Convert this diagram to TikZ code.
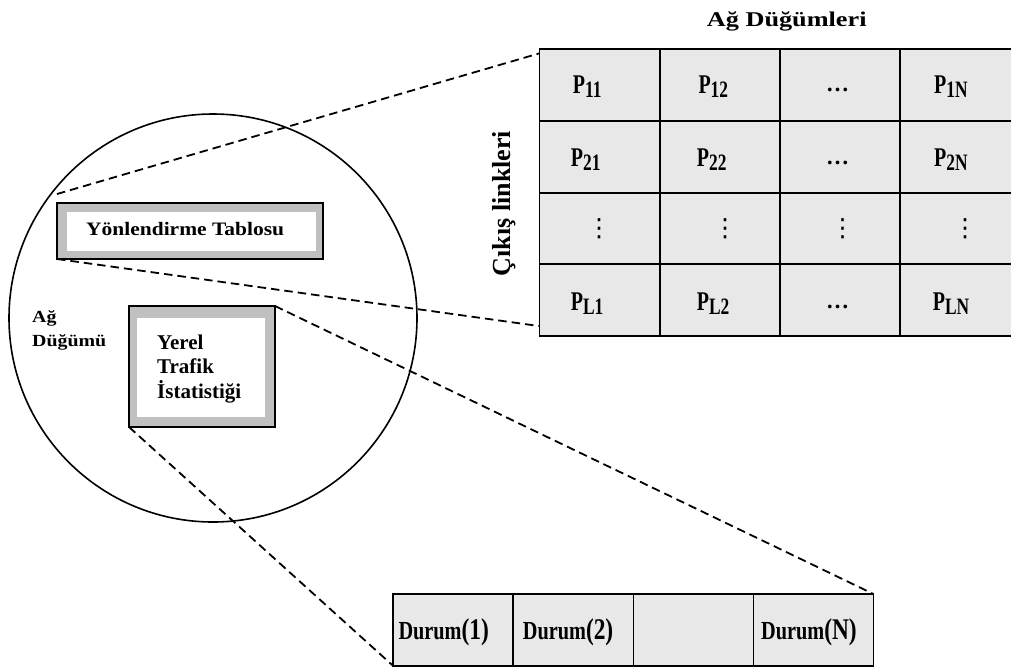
\documentclass[tikz,border=0pt]{standalone}
\usepackage{fontspec}
\usepackage{graphicx}
\usetikzlibrary{calc}
\setmainfont{Liberation Serif}
\newfontfamily\symfont{DejaVu Sans}
\definecolor{cellgray}{HTML}{E8E8E8}
\definecolor{framegray}{HTML}{C0C0C0}
% horizontal stretch of a text run
\newcommand\hstretch[2]{\scalebox{#1}[1]{#2}}
% P with a lowered, slightly smaller index
\newcommand\pcell[1]{\hstretch{0.74}{P\raisebox{-4pt}{\fontsize{23.5}{23.5}\selectfont #1}}}
\newcommand\dcell[1]{\hstretch{0.78}{Durum{\fontsize{30}{30}\selectfont(#1)}}}
\begin{document}
\begin{tikzpicture}[x=1pt,y=-1pt,
  cell/.style={draw=black, line width=1.9pt, fill=cellgray, inner sep=0pt, outer sep=0pt,
               minimum width=120.2pt, minimum height=71.7pt},
  slot/.style={draw=black, line width=1.9pt, fill=cellgray, inner sep=0pt, outer sep=0pt,
               minimum width=120pt, minimum height=72pt},
  frameout/.style={draw=black, line width=1.5pt, fill=framegray, inner sep=0pt, outer sep=0pt},
  framein/.style={fill=white, inner sep=0pt, outer sep=0pt},
  link/.style={dashed, dash pattern=on 8.5pt off 5pt, line width=1.8pt},
  ptext/.style={anchor=base west, inner sep=0pt, font=\bfseries\fontsize{27}{27}\selectfont},
  dtext/.style={anchor=base west, inner sep=0pt, font=\bfseries\fontsize{26}{26}\selectfont},
  dots/.style={anchor=base, inner sep=0pt, font=\bfseries\fontsize{23}{23}\selectfont},
  vdot/.style={inner sep=0pt, font=\symfont\fontsize{25}{25}\selectfont}]
\useasboundingbox (0,0) rectangle (1011,667);

% network node
\node[draw, circle, line width=1.6pt, minimum size=408pt, inner sep=0pt] (nd) at (213,318) {};

% routing table box
\node[frameout, minimum width=266pt, minimum height=56pt] (yo) at (190,231) {};
\node[framein, minimum width=249pt, minimum height=39pt] (yi) at (191.5,231.5) {};
\node[anchor=base west, inner sep=0pt, font=\bfseries\fontsize{19}{19}\selectfont]
  (ytxt) at (86,235) {\hstretch{1.13}{Yönlendirme Tablosu}};

% local traffic statistics box
\node[frameout, minimum width=146pt, minimum height=121pt] (ro) at (202,366.5) {};
\node[framein, minimum width=128pt, minimum height=99pt] (ri) at (201,367.5) {};
\node[anchor=base west, inner sep=0pt, align=left,
      font=\bfseries\fontsize{21}{24.5}\selectfont] (rtxt) at (157,398.3)
  {Yerel\\Trafik\\İstatistiği};

\node[anchor=base west, inner sep=0pt, align=left,
      font=\bfseries\fontsize{17}{24}\selectfont] (ndlbl) at (32,346.7)
  {\hstretch{1.17}{Ağ}\\\hstretch{1.17}{Düğümü}};

% routing matrix
\foreach \r/\y in {1/85.15, 2/156.85, 3/228.55, 4/300.25}
  \foreach \c/\x in {1/599.6, 2/719.8, 3/839.9, 4/960.1}
    \node[cell] (c\r\c) at (\x,\y) {};

\node[ptext] (p11) at (572.7,93.3) {\pcell{11}};
\node[ptext] (p12) at (698.3,93.3) {\pcell{12}};
\node[dots]  (p13) at (837.5,91.7) {…};
\node[ptext] (p14) at (934,93.3) {\pcell{1N}};
\node[ptext] (p21) at (570.7,166.7) {\pcell{21}};
\node[ptext] (p22) at (696.7,166.7) {\pcell{22}};
\node[dots]  (p23) at (837.5,164.5) {…};
\node[ptext] (p24) at (934,166.7) {\pcell{2N}};
\node[vdot]  (p31) at (599,228.3) {⋮};
\node[vdot]  (p32) at (725,228.3) {⋮};
\node[vdot]  (p33) at (842.7,228.3) {⋮};
\node[vdot]  (p34) at (965,228.3) {⋮};
\node[ptext] (p41) at (570.7,310.7) {\pcell{L1}};
\node[ptext] (p42) at (696.7,310.7) {\pcell{L2}};
\node[dots]  (p43) at (837.5,308.5) {…};
\node[ptext] (p44) at (932.7,310.7) {\pcell{LN}};

\node[anchor=base west, inner sep=0pt, font=\bfseries\fontsize{21}{21}\selectfont]
  (mtitle) at (706.7,26.7) {\hstretch{1.25}{Ağ Düğümleri}};
\node[anchor=base, rotate=90, inner sep=0pt, font=\bfseries\fontsize{26}{26}\selectfont]
  (mside) at (510,203.5) {Çıkış linkleri};

% state strip
\foreach \c/\x in {1/453.3, 2/573.5, 3/693.5, 4/813.5}
  \node[slot] (d\c) at (\x,630) {};
\node[dtext] (dt1) at (398.3,639.5) {\dcell{1}};
\node[dtext] (dt2) at (522.7,639.5) {\dcell{2}};
\node[dtext] (dt4) at (761,639.5) {\dcell{N}};

% zoom guides
\draw[link] ($(yo.north west)+(0,-9)$) -- ($(c11.north west)+(0,4)$);
\draw[link] (yo.south west) -- ($(c41.south west)+(0,-10)$);
\draw[link] (ro.north east) -- (d4.north east);
\draw[link] (ro.south west) -- (d1.south west);
\end{tikzpicture}
\end{document}
